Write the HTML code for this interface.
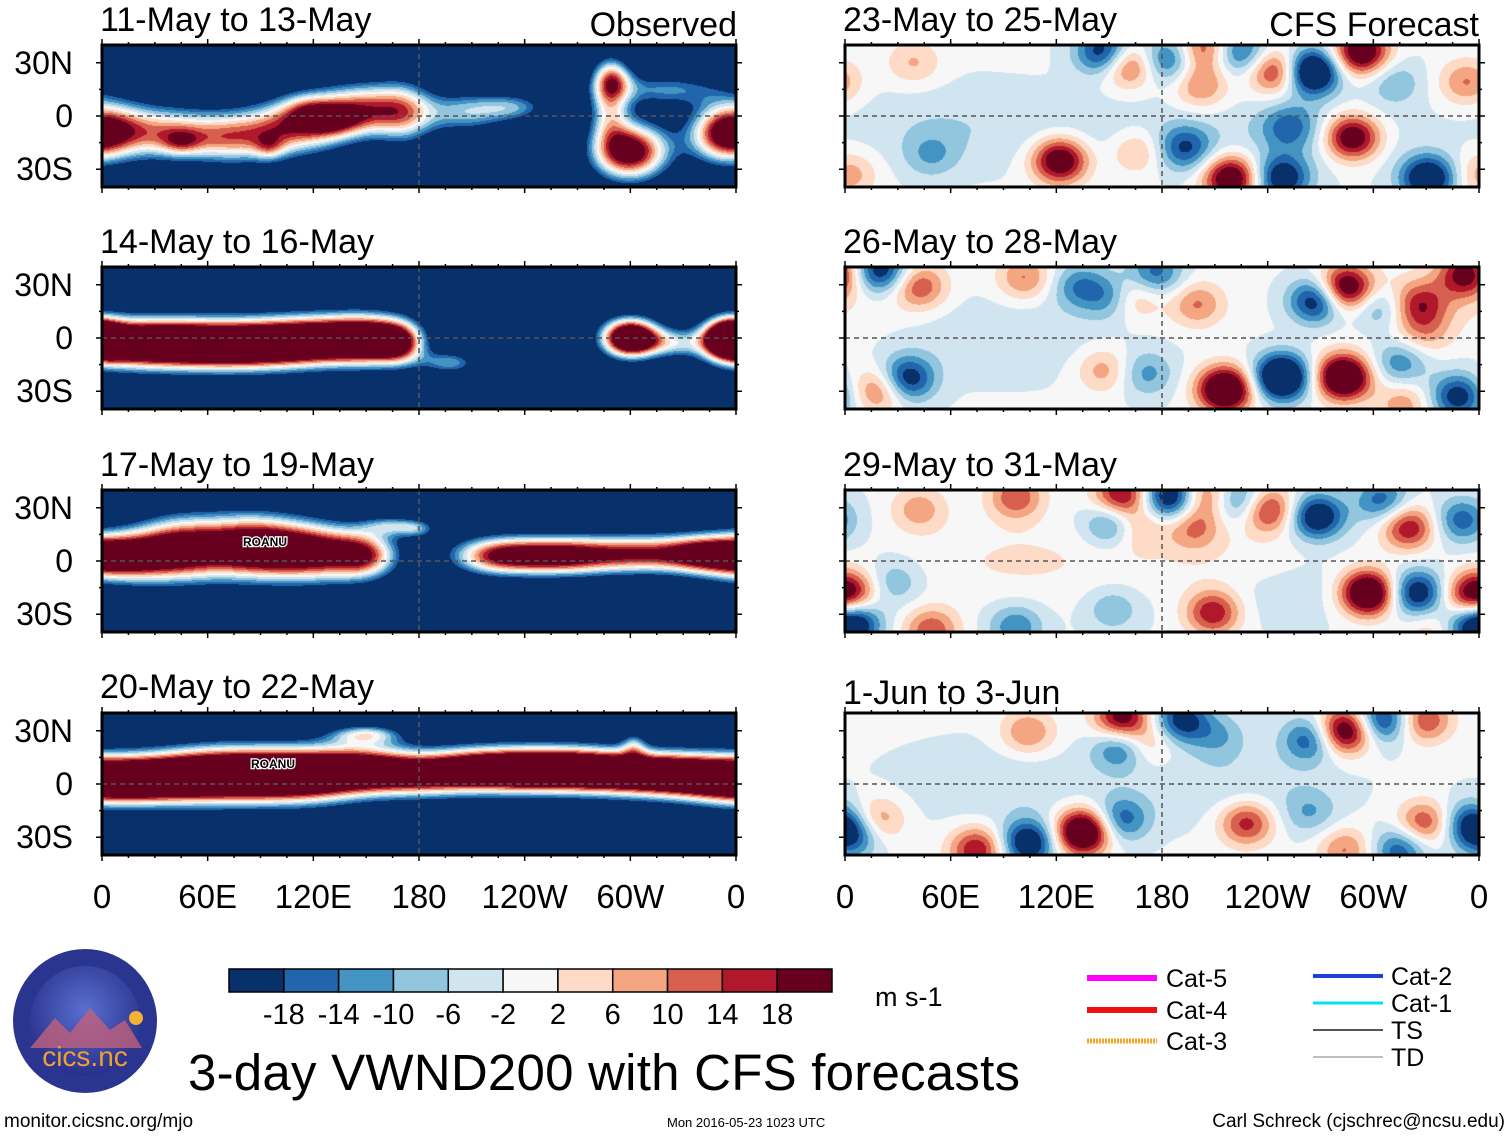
<!DOCTYPE html>
<html><head><meta charset="utf-8">
<style>
body{margin:0;background:#fff;width:1510px;height:1137px;position:relative;overflow:hidden;font-family:"Liberation Sans",sans-serif;}
.abs{position:absolute;}
canvas{position:absolute;}
.t{position:absolute;font-size:34px;color:#000;white-space:nowrap;line-height:1;}
.tr{position:absolute;font-size:34px;color:#000;white-space:nowrap;line-height:1;text-align:right;width:300px;}
.yl{position:absolute;font-size:32px;width:73px;text-align:right;line-height:1;}
.xl{position:absolute;font-size:33px;line-height:1;transform:translateX(-50%);}
</style></head><body>
<div id="panels"></div>
<svg id="ov" class="abs" style="left:0;top:0" width="1510" height="1137"></svg>

<div class="t" style="left:100px;top:3px">11-May to 13-May</div>
<div class="t" style="left:100px;top:225px">14-May to 16-May</div>
<div class="t" style="left:100px;top:448px">17-May to 19-May</div>
<div class="t" style="left:100px;top:670px">20-May to 22-May</div>
<div class="tr" style="left:437px;top:8px">Observed</div>
<div class="t" style="left:843px;top:3px">23-May to 25-May</div>
<div class="t" style="left:843px;top:225px">26-May to 28-May</div>
<div class="t" style="left:843px;top:448px">29-May to 31-May</div>
<div class="t" style="left:843px;top:676px">1-Jun to 3-Jun</div>
<div class="tr" style="left:1179px;top:8px">CFS Forecast</div>

<div id="ylabels"></div>
<div id="xlabels"></div>

<svg class="abs" style="left:10px;top:948px" width="150" height="148">
<defs><radialGradient id="lg" cx="50%" cy="40%" r="60%"><stop offset="0" stop-color="#5a6fd0"/><stop offset="1" stop-color="#27308a"/></radialGradient></defs>
<circle cx="75" cy="73" r="72" fill="#2a3590"/>
<circle cx="75" cy="73" r="55" fill="url(#lg)"/>
<path d="M20 100 L45 70 L60 85 L80 60 L100 82 L115 72 L132 100 Z" fill="#c0607a" opacity="0.8"/>
<circle cx="126" cy="70" r="7" fill="#f2b233"/>
<text x="75" y="118" font-size="28" fill="#f0a030" text-anchor="middle" font-family="Liberation Sans">cics.nc</text>
</svg>

<svg class="abs" style="left:0;top:955px" width="1510" height="182">
<g id="cbar"></g>
<text x="875" y="51" font-size="27" font-family="Liberation Sans">m s-1</text>
<g font-family="Liberation Sans" font-size="25">
<line x1="1087" y1="23" x2="1157" y2="23" stroke="#ff00ff" stroke-width="6"/>
<text x="1166" y="32">Cat-5</text>
<line x1="1087" y1="55" x2="1157" y2="55" stroke="#ee1111" stroke-width="6"/>
<text x="1166" y="64">Cat-4</text>
<line x1="1087" y1="86" x2="1157" y2="86" stroke="#f5a623" stroke-width="5" stroke-dasharray="2 1"/>
<text x="1166" y="95">Cat-3</text>
<line x1="1313" y1="21" x2="1383" y2="21" stroke="#1f3fd6" stroke-width="4"/>
<text x="1391" y="30">Cat-2</text>
<line x1="1313" y1="48" x2="1383" y2="48" stroke="#00e5ee" stroke-width="3"/>
<text x="1391" y="57">Cat-1</text>
<line x1="1313" y1="75" x2="1383" y2="75" stroke="#555" stroke-width="2"/>
<text x="1391" y="84">TS</text>
<line x1="1313" y1="102" x2="1383" y2="102" stroke="#aaa" stroke-width="1.5"/>
<text x="1391" y="111">TD</text>
</g>
<text x="188" y="135" font-size="51" font-family="Liberation Sans" textLength="832">3-day VWND200 with CFS forecasts</text>
<text x="4" y="172" font-size="19" font-family="Liberation Sans">monitor.cicsnc.org/mjo</text>
<text x="667" y="172" font-size="13" font-family="Liberation Sans">Mon 2016-05-23 1023 UTC</text>
<text x="1505" y="172" font-size="19" font-family="Liberation Sans" text-anchor="end">Carl Schreck (cjschrec@ncsu.edu)</text>
</svg>

<script>
// colour scale
const levels = [-18,-14,-10,-6,-2,2,6,10,14,18];
const colors = ["#08306b","#2166ac","#4393c3","#92c5de","#d1e5f0","#f7f7f7","#fddbc7","#f4a582","#d6604d","#b2182b","#67001f"];
const xTicks = ["0","60E","120E","180","120W","60W","0"];
const yTicks = ["30N","0","30S"];
const yTickLat = [30,0,-30];

// panel bases
const bases = [-40,-40,-40,-40,-1.5,-1.5,-1.5,-1.5];

// panel 1 (observed 11-13 May)
const p1Lon=[12,42,72,100,125,150,172,205,235,300,288,320,352,290,45,95,130,115];
const p1Lat=[-8,-10,-12,-8,-2,4,2,2,5,-20,8,15,-10,22,-15,-18,-2,5];
const p1Amp=[40,38,40,38,42,40,36,30,24,66,34,26,52,26,14,14,16,10];
const p1Sx=[16,16,16,16,16,15,12,18,15,16,8,25,14,8,8,6,12,10];
const p1Sy=[12,11,11,12,12,11,13,9,6,12,16,7,12,8,5,5,6,6];
// panel 2
const p2Lon=[10,40,70,100,130,155,170,198,300,356,325];
const p2Lat=[-3,-3,-4,-3,-1,-1,-3,-14,0,0,-3];
const p2Amp=[60,60,60,60,60,55,35,28,85,70,25];
const p2Sx=[20,20,20,20,20,16,10,12,12,10,12];
const p2Sy=[10,10,10,10,10,10,9,5,8,8,6];
// panel 3
const p3Lon=[10,45,85,120,150,165,225,262,300,340,180];
const p3Lat=[2,7,8,5,3,20,3,3,4,4,18];
const p3Amp=[55,60,62,58,45,25,55,55,45,55,20];
const p3Sx=[20,20,20,20,14,12,20,20,20,20,8];
const p3Sy=[10,13,13,12,10,4,8,8,8,8,4];
// panel 4
const p4Lon=[0,30,60,90,120,150,180,210,240,270,300,330,150,302];
const p4Lat=[2,3,5,5,5,8,5,8,8,8,6,5,28,22];
const p4Amp=[60,60,62,62,60,55,45,55,62,62,55,60,32,20];
const p4Sx=[20,20,20,20,20,20,20,20,20,20,20,20,15,5];
const p4Sy=[10,10,11,11,11,10,9,9,9,9,9,9,4,6];
// panel 5 (forecast 23-25 May)
const p5Lon=[265,293,288,122,219,248,331,193,252,147,161,183,204,224,245,202,353,312,39,49,2,166,60,260,150];
const p5Lat=[25,36,-12,-25,-35,-35,-35,-18,-6,36,29,32,38,36,25,17,19,19,30,-22,-33,-20,-5,-10,-10];
const p5Amp=[-32,28,28,28,28,-22,-26,-16,-12,-22,18,-16,16,-16,20,12,12,-8,8,-8,10,10,-4,-4,-3];
// panel 6
const p6Lon=[248,283,216,268,284,303,353,326,20,42,35,20,102,133,152,164,176,200,171,147,348,329,315,317,90,330];
const p6Lat=[-22,-22,-29,21,28,17,36,19,38,29,-23,-29,34,29,23,23,36,19,-20,-18,-33,3,-14,-37,0,20];
const p6Amp=[-34,34,34,-24,28,-12,22,15,-22,15,-22,15,12,-12,-12,12,-15,12,-10,10,-20,8,-12,10,-4,4];
// panel 7
const p7Lon=[297,325,4,2,268,240,157,185,204,224,152,166,198,305,320,350,209,97,42,97,49,152,28,221,245,353,350,334,100];
const p7Lat=[-18,-18,-35,-18,25,29,37,36,37,34,21,19,19,34,19,23,-29,36,29,-37,-39,-27,-12,-4,-14,-20,-37,-39,0];
const p7Amp=[34,-22,-26,20,-24,20,22,-26,15,-15,-15,10,12,-15,20,-15,20,15,10,-12,15,-8,-8,5,-5,12,-10,8,4];
// panel 8
const p8Lon=[135,104,75,4,18,157,157,157,171,104,191,212,228,284,264,305,329,329,355,315,284,264,90,220];
const p8Lat=[-27,-33,-37,-29,-20,-20,37,21,23,29,36,27,-22,30,25,36,36,-22,-22,-37,-37,-16,0,0];
const p8Amp=[34,-24,20,-16,12,-15,24,-16,10,12,-20,-8,18,28,-16,-20,16,16,-16,-16,12,-8,-4,-4];

const panelLon=[p1Lon,p2Lon,p3Lon,p4Lon,p5Lon,p6Lon,p7Lon,p8Lon];
const panelLat=[p1Lat,p2Lat,p3Lat,p4Lat,p5Lat,p6Lat,p7Lat,p8Lat];
const panelAmp=[p1Amp,p2Amp,p3Amp,p4Amp,p5Amp,p6Amp,p7Amp,p8Amp];
const panelSx=[p1Sx,p2Sx,p3Sx,p4Sx,null,null,null,null];
const panelSy=[p1Sy,p2Sy,p3Sy,p4Sy,null,null,null,null];
const panelNames=["observed-11-13-may","observed-14-16-may","observed-17-19-may","observed-20-22-may","forecast-23-25-may","forecast-26-28-may","forecast-29-31-may","forecast-1-3-jun"];

const rowTop=[45,267,490,713];
const colLeft=[102,845];
const PW=634, PH=142, LATMAX=40, LATMIN=-40;
const xScale = lon => lon/360*PW;
const yScale = lat => (LATMAX-lat)/(LATMAX-LATMIN)*PH;

function hexRgb(h){return [parseInt(h.substr(1,2),16),parseInt(h.substr(3,2),16),parseInt(h.substr(5,2),16)];}
const rgbs=colors.map(hexRgb);

const host=document.getElementById('panels');
const ov=document.getElementById('ov');
const NS="http://www.w3.org/2000/svg";
function sv(tag,attrs){const e=document.createElementNS(NS,tag);for(const k in attrs)e.setAttribute(k,attrs[k]);ov.appendChild(e);return e;}

for(let p=0;p<8;p++){
  const col=p<4?0:1,row=p%4;
  const L=colLeft[col],T=rowTop[row];
  const cv=document.createElement('canvas');
  cv.width=PW;cv.height=PH;cv.style.left=L+'px';cv.style.top=T+'px';
  
  
  host.appendChild(cv);
  const ctx=cv.getContext('2d');
  const img=ctx.createImageData(PW,PH);
  const lons=panelLon[p],lats=panelLat[p],amps=panelAmp[p];
  const sxs=panelSx[p],sys=panelSy[p];
  for(let y=0;y<PH;y++){
    const lat=LATMAX-(y+0.5)/PH*(LATMAX-LATMIN);
    for(let x=0;x<PW;x++){
      const lon=(x+0.5)/PW*360;
      let v=bases[p];
      for(let b=0;b<lons.length;b++){
        let dl=Math.abs(lon-lons[b]);if(dl>180)dl=360-dl;
        const sx=sxs?sxs[b]:(Math.abs(amps[b])<6?40:11);
        const sy=sys?sys[b]:(Math.abs(amps[b])<6?15:9);
        const d=(dl/sx)**2+((lat-lats[b])/sy)**2;
        if(d<30)v+=amps[b]*Math.exp(-d/2);
      }
      let i=0;while(i<levels.length && v>=levels[i])i++;
      const c=rgbs[i],k=(y*PW+x)*4;
      img.data[k]=c[0];img.data[k+1]=c[1];img.data[k+2]=c[2];img.data[k+3]=255;
    }
  }
  ctx.putImageData(img,0,0);
  let e=sv('line',{x1:L,x2:L+PW,y1:T+yScale(0),y2:T+yScale(0),stroke:'#555','stroke-width':1.5,'stroke-dasharray':'5 4'});
  
  
  e=sv('line',{x1:L+xScale(180),x2:L+xScale(180),y1:T,y2:T+PH,stroke:'#555','stroke-width':1.5,'stroke-dasharray':'5 4'});
  
  
  e=sv('rect',{x:L,y:T,width:PW,height:PH,fill:'none',stroke:'#000','stroke-width':3});
  
  
  for(let lon=0;lon<=360;lon+=15){
    const len=lon%60===0?6:3;
    sv('line',{x1:L+xScale(lon),x2:L+xScale(lon),y1:T-len,y2:T,stroke:'#000','stroke-width':1.5});
    sv('line',{x1:L+xScale(lon),x2:L+xScale(lon),y1:T+PH,y2:T+PH+len,stroke:'#000','stroke-width':1.5});
  }
  for(let lat=-30;lat<=30;lat+=15){
    const len=lat%30===0?6:3;
    sv('line',{x1:L-len,x2:L,y1:T+yScale(lat),y2:T+yScale(lat),stroke:'#000','stroke-width':1.5});
    sv('line',{x1:L+PW,x2:L+PW+len,y1:T+yScale(lat),y2:T+yScale(lat),stroke:'#000','stroke-width':1.5});
  }
  if(col===0){
    const yl=document.getElementById('ylabels');
    yTicks.forEach((t,i)=>{
      const d=document.createElement('div');d.className='yl';
      d.style.left='0px';d.style.top=(T+yScale(yTickLat[i])-16)+'px';
      d.textContent=t;
      
      
      yl.appendChild(d);
    });
  }
  if(row===3){
    const xl=document.getElementById('xlabels');
    xTicks.forEach((t,i)=>{
      const d=document.createElement('div');d.className='xl';
      d.style.left=(L+xScale(i*60))+'px';d.style.top='880px';
      d.textContent=t;
      
      
      xl.appendChild(d);
    });
  }
}
[[243,541,'ROANU'],[251,763,'ROANU']].forEach(s=>{
  const t=sv('text',{x:s[0],y:s[1]+5,'font-size':12,'font-family':'Liberation Sans','font-weight':'bold',fill:'#000',stroke:'#fff','stroke-width':2.5,'paint-order':'stroke'});
  t.textContent=s[2];
  
  
});

const cb=document.getElementById('cbar');
const CBX=229,CBW=603,CBY=14,CBH=23,bw=CBW/colors.length;
colors.forEach((c,i)=>{
  const r=document.createElementNS(NS,'rect');
  r.setAttribute('x',CBX+i*bw);r.setAttribute('y',CBY);r.setAttribute('width',bw);r.setAttribute('height',CBH);
  r.setAttribute('fill',c);r.setAttribute('stroke','#000');r.setAttribute('stroke-width','1.5');
  
  
  cb.appendChild(r);
});
levels.forEach((l,i)=>{
  const t=document.createElementNS(NS,'text');
  t.setAttribute('x',CBX+(i+1)*bw);t.setAttribute('y',CBY+CBH+32);
  t.setAttribute('text-anchor','middle');t.setAttribute('font-size','29');t.setAttribute('font-family','Liberation Sans');
  t.textContent=l;
  
  
  cb.appendChild(t);
});
</script>
</body></html>
